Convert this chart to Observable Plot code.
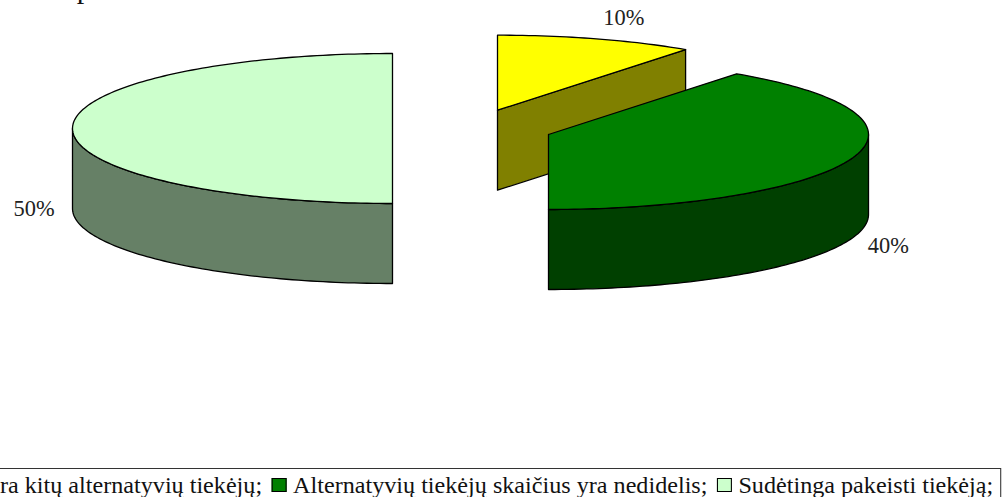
<!DOCTYPE html>
<html>
<head>
<meta charset="utf-8">
<script src="https://cdn.jsdelivr.net/npm/d3@7"></script>
<script src="https://cdn.jsdelivr.net/npm/@observablehq/plot@0.6"></script>
<style>
  html, body { margin: 0; padding: 0; background: #fff; overflow: hidden; }
  #page { position: relative; width: 1003px; height: 497px; overflow: hidden; font-family: "Liberation Serif", serif; color: #111; }
  #lead { position: absolute; left: -23px; top: -27.5px; font-size: 30px; line-height: 30px; white-space: pre; word-spacing: 44px; }
  #legend { position: absolute; top: 467.5px; height: 40px; box-sizing: border-box; border: 1.5px solid #333; background: #fff;
            padding-top: 4px; font-size: 22.5px; line-height: 26px; white-space: nowrap; display: flex; align-items: flex-start;
            transform-origin: 0 0; }
  .key { display: inline-flex; align-items: center; }
  .swatch { display: inline-block; position: relative; top: -0.4px; width: 14px; height: 14px; box-sizing: border-box; border: 1.5px solid #000; margin-right: 5.6px; }
</style>
</head>
<body>
<div id="page"></div>
<script>
// Share of respondents per answer
const categories = ["Yra kitų alternatyvių tiekėjų", "Alternatyvių tiekėjų skaičius yra nedidelis", "Sudėtinga pakeisti tiekėją"];
const shares = [10, 40, 50];
const shareLabels = ["10%", "40%", "50%"];
const topColors = ["#ffff00", "#008000", "#ccffcc"];
const sideColors = ["#808000", "#004000", "#668066"];
// Where each exploded slice's centre sits on the page, and how far its label stands off the rim
const centerX = [497, 548, 392];
const centerY = [109.7, 134, 128];
const labelDx = [27.5, 35.5, -38.5];
const labelDy = [-21, 88, 80];

const radiusX = 320, radiusY = 75, depth = 80;
const leadText = "mas paveiksle.";
const legendStretch = 1.073;

const page = document.getElementById("page");

// Project a pie angle (clockwise from twelve o'clock) onto the tilted disc of slice i
const rim = (i, a, drop = 0) => ({
  x: centerX[i] + radiusX * Math.sin(a),
  y: centerY[i] - radiusY * Math.cos(a) + drop
});
const arc = (i, a0, a1, drop = 0) => {
  const n = Math.max(2, Math.ceil(Math.abs(a1 - a0) / 0.02));
  return d3.range(n + 1).map((k) => rim(i, a0 + ((a1 - a0) * k) / n, drop));
};

// Slice angles from the shares
const total = d3.sum(shares);
const ends = d3.cumsum(shares).map((v) => (v / total) * 2 * Math.PI);
const starts = ends.map((_, i) => (i ? ends[i - 1] : 0));

// Build closed outlines, tagged by a polygon id and drawn back to front
const outlines = [];
const addOutline = (points, fill) => {
  const id = outlines.length;
  outlines.push({id, fill, points: [...points, points[0]]});
};
shares.forEach((_, i) => {
  const a0 = starts[i], a1 = ends[i];
  const apex = {x: centerX[i], y: centerY[i]};
  const apexLow = {x: centerX[i], y: centerY[i] + depth};
  // cut face seen from the front: the one on the slice's trailing edge
  if (i === 0) {
    const e = rim(i, a1);
    addOutline([apex, e, {x: e.x, y: e.y + depth}, apexLow], sideColors[i]);
  }
  // outer wall, only the part of the rim that faces the viewer
  const w0 = Math.max(a0, Math.PI / 2), w1 = Math.min(a1, (3 * Math.PI) / 2);
  if (w1 > w0) {
    addOutline([...arc(i, w0, w1), ...arc(i, w1, w0, depth)], sideColors[i]);
  }
  addOutline([apex, ...arc(i, a0, a1)], topColors[i]);
});
const rows = outlines.flatMap((o) => o.points.map((p) => ({...p, id: o.id, fill: o.fill})));

// Percent labels sit just outside the middle of each slice's rim
const labels = shares.map((_, i) => {
  const p = rim(i, (starts[i] + ends[i]) / 2);
  return {x: p.x + labelDx[i], y: p.y + labelDy[i], text: shareLabels[i]};
});

const chart = Plot.plot({
  width: 1003,
  height: 497,
  margin: 0,
  x: {domain: [0, 1003], range: [0, 1003], axis: null},
  y: {domain: [0, 497], range: [0, 497], axis: null},
  marks: [
    Plot.line(rows, {
      x: "x", y: "y", z: "id",
      fill: "fill", stroke: "#000", strokeWidth: 1.3,
      curve: "linear"
    }),
    Plot.text(labels, {
      x: "x", y: "y", text: "text",
      fontFamily: "Liberation Serif", fontSize: 22.4, fill: "#222"
    })
  ]
});
chart.style.position = "absolute";
chart.style.left = "0";
chart.style.top = "0";
chart.style.background = "transparent";
page.appendChild(chart);

const lead = document.createElement("div");
lead.id = "lead";
lead.textContent = leadText;
page.appendChild(lead);

const legend = document.createElement("div");
legend.id = "legend";
legend.style.transform = `scaleX(${legendStretch})`;
const keys = categories.map((name, i) => {
  const key = document.createElement("span");
  key.className = "key";
  key.style.marginLeft = i ? "9.3px" : "6px";
  const sw = document.createElement("span");
  sw.className = "swatch";
  sw.style.background = topColors[i];
  key.appendChild(sw);
  key.appendChild(document.createTextNode(name + ";"));
  legend.appendChild(key);
  return key;
});
page.appendChild(legend);

// The box runs off the left of the page: line the second key up and close the box on the right
legend.style.left = "0px";
const shift = 272.5 - keys[1].getBoundingClientRect().left;
legend.style.left = shift + "px";
legend.style.width = (1001.5 - shift) / legendStretch + "px";
</script>
</body>
</html>
